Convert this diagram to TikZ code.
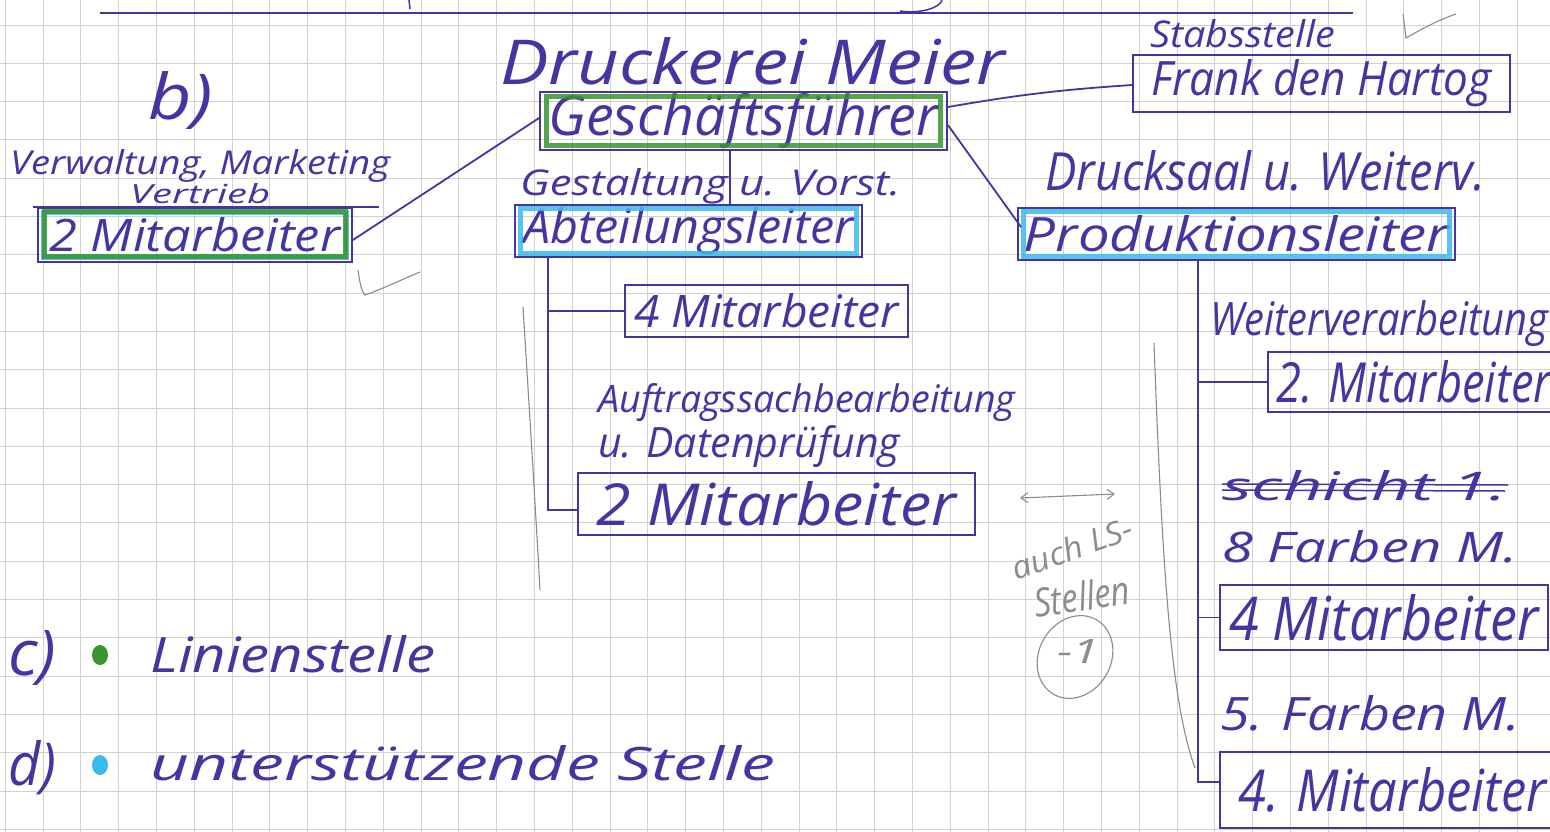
\documentclass[tikz,border=0pt]{standalone}
\usepackage{fontspec}
\setmainfont{Open Sans}
\usetikzlibrary{arrows.meta,shapes.geometric}
\definecolor{ink}{RGB}{72,52,160}
\definecolor{greenpen}{RGB}{55,150,45}
\definecolor{bluepen}{RGB}{60,185,235}
\definecolor{pencil}{RGB}{140,140,140}
\definecolor{gridc}{RGB}{210,210,210}
\newcommand\hwtext[3]{\resizebox{#1pt}{#2pt}{#3}}
\tikzset{
  txt/.style={inner sep=0pt, text=ink, font=\itshape, anchor=base west},
  box/.style={draw=ink, line width=1.8pt, inner sep=0pt, text=ink, font=\itshape},
  conn/.style={draw=ink, line width=1.8pt},
  hl/.style={line width=5pt, opacity=.85},
  pencilline/.style={draw=pencil, line width=1.1pt},
  penciltxt/.style={inner sep=0pt, text=pencil, font=\itshape},
  gridline/.style={draw=gridc, line width=0.9pt}
}
\begin{document}
\begin{tikzpicture}[x=1pt,y=-1pt]
\useasboundingbox (0,0) rectangle (1550,832);
\fill[white] (0,0) rectangle (1550,832);
% squared paper
\foreach \i in {0,...,40} \draw[gridline] ({5.2+37.8*\i},0) -- ++(0,832);
\foreach \j in {0,...,21} \draw[gridline] (0,{25+38.3*\j}) -- ++(1550,0);
% top rule and fragments
\draw[conn] (100,13) -- (1353,13);
\draw[ink, line width=1.5pt] (409,0) -- (410,9);
\draw[ink, line width=1.5pt] (900,11) .. controls (920,14) and (940,8) .. (942,0);

% titles
\node[txt] (b) at (148,120) {\hwtext{65}{48}{b)}};
\node[txt] (druck) at (500,85) {\hwtext{505}{47}{Druckerei Meier}};
\node[txt] (stab) at (1150,48) {\hwtext{185}{28}{Stabsstelle}};

% boxes
\node[box, minimum width=407pt, minimum height=58pt] (gf) at (743.5,121) {\hwtext{390}{42}{Geschäftsführer}};
\node[box, minimum width=377pt, minimum height=57pt] (frank) at (1321.5,83.5) {\hwtext{340}{36}{Frank den Hartog}};
\node[box, minimum width=314pt, minimum height=54pt] (mv) at (195,235) {\hwtext{290}{34}{2 Mitarbeiter}};
\node[box, minimum width=347pt, minimum height=52pt] (al) at (688.5,231) {\hwtext{330}{36}{Abteilungsleiter}};
\node[box, minimum width=437pt, minimum height=52pt] (pl) at (1236.5,234) {\hwtext{425}{36}{Produktionsleiter}};
\node[box, minimum width=283pt, minimum height=52pt] (m4) at (766.5,311) {\hwtext{265}{34}{4 Mitarbeiter}};
\node[box, minimum width=397pt, minimum height=62pt] (m2b) at (776.5,504) {\hwtext{360}{44}{2 Mitarbeiter}};
\node[box, minimum width=292pt, minimum height=60pt] (w2) at (1414,382) {\hwtext{275}{42}{2. Mitarbeiter}};
\node[box, minimum width=328pt, minimum height=65pt] (f8) at (1384,617.5) {\hwtext{310}{46}{4 Mitarbeiter}};
\node[box, minimum width=345pt, minimum height=76pt] (f5) at (1392.5,790) {\hwtext{308}{44}{4. Mitarbeiter}};

% colour highlights
\draw[hl, greenpen] ([shift={(7pt,-5pt)}]gf.north west) rectangle ([shift={(-7pt,5pt)}]gf.south east);
\draw[hl, bluepen] ([shift={(6pt,-5pt)}]mv.north west) rectangle ([shift={(-6pt,5pt)}]mv.south east);
\draw[hl, greenpen] ([shift={(7pt,-4pt)}]mv.north west) rectangle ([shift={(-7pt,6pt)}]mv.south east);
\draw[hl, bluepen] ([shift={(6pt,-4pt)}]al.north west) rectangle ([shift={(-6pt,4pt)}]al.south east);
\draw[hl, bluepen] ([shift={(6pt,-4pt)}]pl.north west) rectangle ([shift={(-6pt,4pt)}]pl.south east);
\draw[conn] ([xshift=-4pt]mv.north west) -- ([xshift=26pt]mv.north east);

% labels
\node[txt] (verw) at (10,174) {\hwtext{380}{25}{Verwaltung, Marketing}};
\node[txt] (vertr) at (130,203) {\hwtext{140}{20}{Vertrieb}};
\node[txt] (gest) at (520,195) {\hwtext{380}{27}{Gestaltung u. Vorst.}};
\node[txt] (druckw) at (1045,190) {\hwtext{440}{40}{Drucksaal u. Weiterv.}};
\node[txt] (auftr) at (598,412) {\hwtext{417}{29}{Auftragssachbearbeitung}};
\node[txt] (daten) at (598,457) {\hwtext{302}{32}{u. Datenprüfung}};
\node[txt] (weiter) at (1210,335) {\hwtext{338}{35}{Weiterverarbeitung}};
\node[txt] (schicht) at (1222,500) {\hwtext{285}{30}{schicht 1.}};
\draw[ink, line width=1.5pt] (schicht.west |- 0,484) -- (1508,485);
\draw[ink, line width=1.5pt] (schicht.west |- 0,490) -- (1505,491);
\node[txt] (farb8) at (1222,562) {\hwtext{295}{32}{8 Farben M.}};
\node[txt] (farb5) at (1220,730) {\hwtext{300}{35}{5. Farben M.}};

% connectors
\draw[conn] ([yshift=14pt]gf.east) to[bend left=3] ([yshift=-1.5pt]frank.west);
\draw[conn] ([yshift=3pt]gf.west) -- ([yshift=-5pt]mv.east);
\draw[conn] ([xshift=-13.5pt]gf.south) -- ([xshift=-13.5pt]gf.south |- al.north);
\draw[conn] ([yshift=-4pt]gf.east) -- ([shift={(4pt,-20pt)}]pl.north west);
\coordinate (alsp) at ([xshift=-140.5pt]al.south);
\draw[conn] (alsp) |- ([yshift=-6pt]m2b.west);
\draw[conn] (alsp |- m4.west) -- (m4.west);
\coordinate (plsp) at ([xshift=-38.5pt]pl.south);
\draw[conn] (plsp) |- ([yshift=8pt]f5.west);
\draw[conn] (plsp |- w2.west) -- (w2.west);
\draw[conn] (plsp |- f8.west) -- (f8.west);

% pencil annotations
\draw[pencilline] (1403,14) -- (1406,38) .. controls (1420,30) and (1438,20) .. (1456,14);
\draw[pencilline] (358,270) .. controls (360,285) and (362,292) .. (365,295) .. controls (385,288) and (405,278) .. (420,272);
\draw[pencilline] (523,307) .. controls (530,420) and (535,500) .. (540,590);
\draw[pencilline] (1154,343) .. controls (1162,560) and (1170,700) .. (1195,768);
\draw[pencilline, {Straight Barb[length=7pt,width=10pt]}-{Straight Barb[length=7pt,width=10pt]}] (1020,498) -- (1115,494);
\node[penciltxt, rotate=20] (auch) at (1072,548) {\hwtext{126}{24}{auch LS-}};
\node[penciltxt, rotate=8] (stellen) at (1082,596) {\hwtext{96}{30}{Stellen}};
\node[draw=pencil, line width=1.1pt, ellipse, minimum width=86pt, minimum height=72pt, rotate=60] (oval) at (1075,657) {};
\node[penciltxt] (minus) at (1078,651) {\hwtext{42}{24}{-1}};

% legend
\node[txt] (c) at (8,675) {\hwtext{48}{45}{c)}};
\fill[greenpen] (100,655) ellipse (8pt and 10pt);
\node[txt] (lin) at (150,672) {\hwtext{285}{37}{Linienstelle}};
\node[txt] (d) at (8,785) {\hwtext{48}{45}{d)}};
\fill[bluepen] (100,765) ellipse (8pt and 10pt);
\node[txt] (unt) at (150,780) {\hwtext{625}{35}{unterstützende Stelle}};
\end{tikzpicture}
\end{document}
